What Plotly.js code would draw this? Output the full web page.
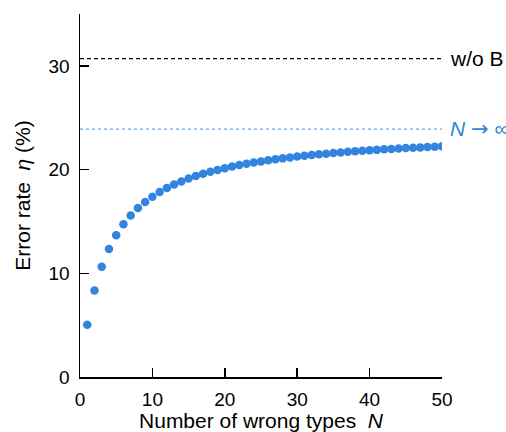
<!DOCTYPE html>
<html><head><meta charset="utf-8">
<script src="https://cdn.plot.ly/plotly-3.0.1.min.js"></script>
<style>html,body{margin:0;padding:0;background:#fff}#chart{width:506px;height:432px}</style>
</head><body><div id="chart"></div>
<script>
const N = [];
for (let i = 1; i <= 50; i++) N.push(i);
const errorRate = [5.04, 8.33, 10.64, 12.35, 13.67, 14.72, 15.58, 16.29, 16.88, 17.39,
  17.84, 18.22, 18.56, 18.86, 19.13, 19.37, 19.59, 19.79, 19.97, 20.13,
  20.29, 20.43, 20.56, 20.68, 20.79, 20.89, 20.99, 21.08, 21.17, 21.25,
  21.33, 21.40, 21.47, 21.53, 21.59, 21.65, 21.71, 21.76, 21.81, 21.86,
  21.90, 21.95, 21.99, 22.03, 22.07, 22.10, 22.14, 22.17, 22.21, 22.24];
const refX = [0, 50];
const withoutB = [30.7, 30.7];
const limitInf = [23.9, 23.9];
const labels = ["w/o B", "<i>N</i> <span style=\"font-family:DejaVu Sans\">→</span> ∞"];

const blue = "#3384de";
const font = "Liberation Sans, Arial, sans-serif";

const traces = [
  {x: refX, y: withoutB, mode: "lines", line: {color: "#000", width: 1.2, dash: "4px,3px"}, hoverinfo: "skip"},
  {x: refX, y: limitInf, mode: "lines", line: {color: "#6aa6ea", width: 1.2, dash: "dot"}, hoverinfo: "skip"},
  {x: N, y: errorRate, mode: "markers", marker: {color: blue, size: 8.5}, cliponaxis: true}
];

const layout = {
  width: 506, height: 432,
  margin: {l: 80, r: 64, t: 14, b: 55},
  paper_bgcolor: "#fff", plot_bgcolor: "#fff",
  showlegend: false,
  font: {family: font, size: 19, color: "#000"},
  xaxis: {
    range: [0, 50], tickvals: [0, 10, 20, 30, 40, 50],
    ticks: "inside", ticklen: 9, tickwidth: 1.5, tickcolor: "#000",
    showline: true, linecolor: "#000", linewidth: 1.5,
    showgrid: false, zeroline: false,
    ticklabelstandoff: 5, automargin: false,
    title: {text: "Number of wrong types\u00a0\u00a0<i>N</i>", font: {size: 21}, standoff: 20}
  },
  yaxis: {
    range: [0, 35], tickvals: [0, 10, 20, 30],
    ticks: "inside", ticklen: 9, tickwidth: 1.5, tickcolor: "#000",
    showline: true, linecolor: "#000", linewidth: 1.5,
    showgrid: false, zeroline: false,
    ticklabelstandoff: 5,
    title: {text: "Error rate\u00a0\u00a0<i>η</i>\u00a0(%)", font: {size: 21}, standoff: 12}
  },
  annotations: [
    {x: 1, xref: "paper", xshift: 6, y: withoutB[0], yref: "y", text: labels[0], showarrow: false, xanchor: "left", yanchor: "middle", font: {size: 21, color: "#000"}},
    {x: 1, xref: "paper", xshift: 6, y: limitInf[0], yref: "y", text: labels[1], showarrow: false, xanchor: "left", yanchor: "middle", font: {size: 21, color: blue}}
  ]
};
Plotly.newPlot("chart", traces, layout, {displayModeBar: false, staticPlot: true});
</script></body></html>
